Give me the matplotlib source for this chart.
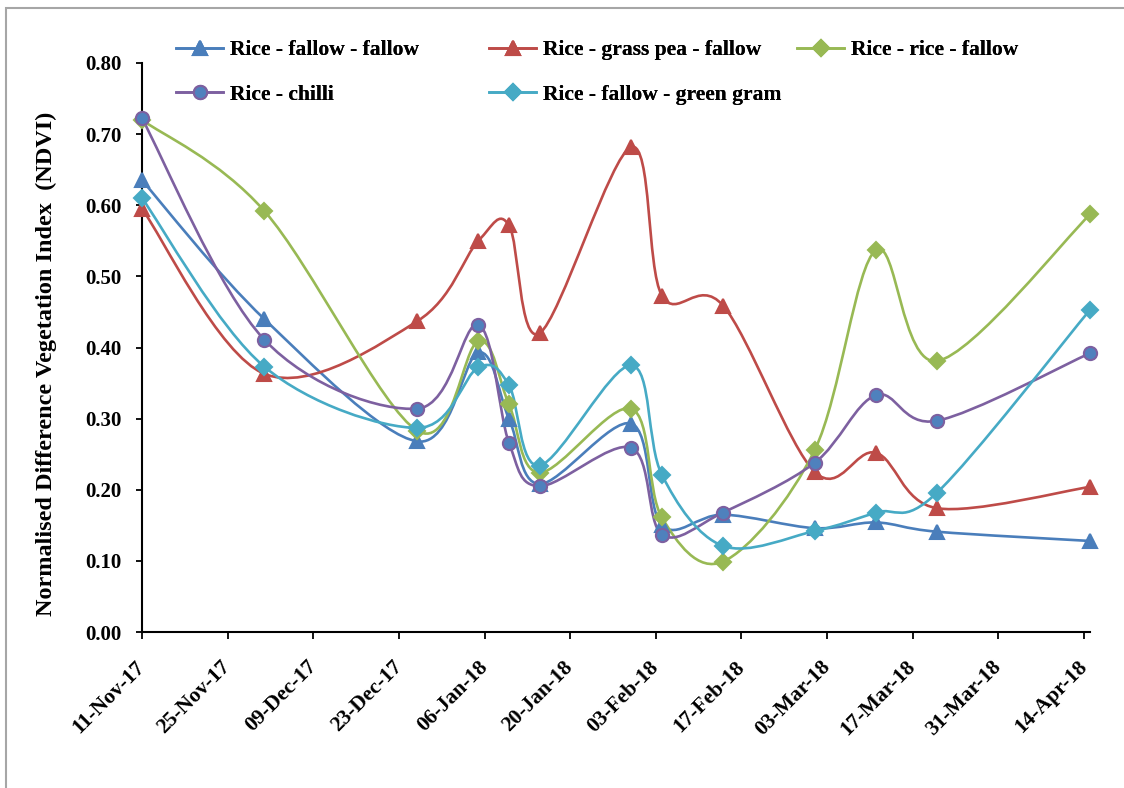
import datetime as dt
import numpy as np
import matplotlib
matplotlib.use("Agg")
import matplotlib.pyplot as plt
import matplotlib.dates as mdates
from matplotlib.path import Path
from matplotlib.patches import PathPatch, Rectangle
from matplotlib.lines import Line2D

plt.rcParams['font.family'] = ['Liberation Serif', 'DejaVu Serif']
plt.rcParams['font.weight'] = 'bold'

# fechas de las imagenes
fechas = ['2017-11-11', '2017-12-01', '2017-12-26', '2018-01-05', '2018-01-10',
          '2018-01-15', '2018-01-30', '2018-02-04', '2018-02-14', '2018-03-01',
          '2018-03-11', '2018-03-21', '2018-04-15']

fallow_fallow = [0.635, 0.440, 0.268, 0.393, 0.300, 0.208, 0.293, 0.150, 0.165, 0.146, 0.154, 0.141, 0.128]
grass_pea = [0.595, 0.363, 0.437, 0.550, 0.572, 0.420, 0.682, 0.473, 0.459, 0.225, 0.252, 0.174, 0.204]
rice_rice = [0.720, 0.592, 0.283, 0.409, 0.320, 0.224, 0.314, 0.161, 0.099, 0.256, 0.537, 0.381, 0.587]
chilli = [0.722, 0.411, 0.314, 0.432, 0.266, 0.205, 0.259, 0.137, 0.168, 0.238, 0.333, 0.297, 0.392]
green_gram = [0.610, 0.373, 0.287, 0.372, 0.347, 0.234, 0.375, 0.221, 0.121, 0.142, 0.168, 0.196, 0.453]

nombres = ['Rice - fallow - fallow', 'Rice - grass pea - fallow', 'Rice - rice - fallow',
           'Rice - chilli', 'Rice - fallow - green gram']

x = mdates.date2num([dt.datetime.strptime(f, '%Y-%m-%d') for f in fechas])

'''
Curva suavizada tipo Excel (Bezier con tension 1/6)
'''
def curva(xs, ys):
    p = np.column_stack([xs, ys])
    n = len(p)
    verts = [p[0]]
    codes = [Path.MOVETO]
    for i in range(n - 1):
        p0 = p[i - 1] if i > 0 else p[i]
        p3 = p[i + 2] if i + 2 < n else p[i + 1]
        c1 = p[i] + (p[i + 1] - p0) / 6.0
        c2 = p[i + 1] - (p3 - p[i]) / 6.0
        verts += [c1, c2, p[i + 1]]
        codes += [Path.CURVE4] * 3
    return Path(verts, codes)

fig = plt.figure(figsize=(11.24, 7.88), dpi=100)
ax = fig.add_axes([142/1124, 1 - 632/788, 948/1124, 569/788])

series = [
    (fallow_fallow, '#4A7EBB', '^', '#4A7EBB', '#4A7EBB', 10),
    (grass_pea, '#BE4B48', '^', '#BE4B48', '#BE4B48', 10),
    (rice_rice, '#98B954', 'D', '#98B954', '#98B954', 8),
    (chilli, '#7D60A0', 'o', '#4F81BD', '#7D60A0', 9.5),
    (green_gram, '#46AAC5', 'D', '#46AAC5', '#46AAC5', 8),
]

handles = []
for (vals, col, mk, fc, ec, ms), nom in zip(series, nombres):
    ax.add_patch(PathPatch(curva(x, vals), facecolor='none', edgecolor=col,
                           lw=1.9, clip_on=False, zorder=2))
    ax.plot(x, vals, linestyle='none', marker=mk, ms=ms, mfc=fc, mec=ec,
            mew=1.5, clip_on=False, zorder=3)
    handles.append(Line2D([], [], color=col, lw=1.9, marker=mk, ms=ms,
                          mfc=fc, mec=ec, mew=1.5))

ax.set_xlim(x[0], x[-1])
ax.set_ylim(0, 0.8)
ax.set_yticks(np.arange(0, 0.81, 0.1))
ax.yaxis.set_major_formatter(plt.FormatStrFormatter('%.2f'))

ticks = mdates.drange(dt.datetime(2017, 11, 11), dt.datetime(2018, 4, 15), dt.timedelta(days=14))
ax.set_xticks(ticks)
ax.xaxis.set_major_formatter(mdates.DateFormatter('%d-%b-%y'))

for s in ['top', 'right']:
    ax.spines[s].set_visible(False)
for s in ['left', 'bottom']:
    ax.spines[s].set_linewidth(1.5)

ax.tick_params(axis='y', length=4, width=1.3, pad=11, labelsize=15)
ax.tick_params(axis='x', length=5, width=1.3, pad=18, labelsize=15.5)
for lab in ax.get_xticklabels():
    lab.set_rotation(45)
    lab.set_ha('right')
    lab.set_va('center')
    lab.set_rotation_mode('anchor')

ax.set_ylabel('Normalised Difference Vegetation Index  (NDVI)', fontsize=17.5, fontweight='bold')
ax.yaxis.set_label_coords(-0.090, 0.471)

# leyenda en tres columnas separadas
cols = [([handles[0], handles[3]], [nombres[0], nombres[3]], 176),
        ([handles[1], handles[4]], [nombres[1], nombres[4]], 489),
        ([handles[2]], [nombres[2]], 797)]
for hs, ls, px in cols:
    leg = fig.legend(hs, ls, loc='upper left', bbox_to_anchor=(px/1124, 1 - 40/788),
                     frameon=False, fontsize=15.5, handlelength=2.2, handletextpad=0.3,
                     borderpad=0, borderaxespad=0, labelspacing=1.15)
    fig.add_artist(leg)

fig.add_artist(Rectangle((6/1124, -0.02), 1.1, 1 - 8/788 + 0.02, transform=fig.transFigure,
                         fill=False, edgecolor='#A6A6A6', lw=1.5))

fig.savefig('out.png', dpi=100)
